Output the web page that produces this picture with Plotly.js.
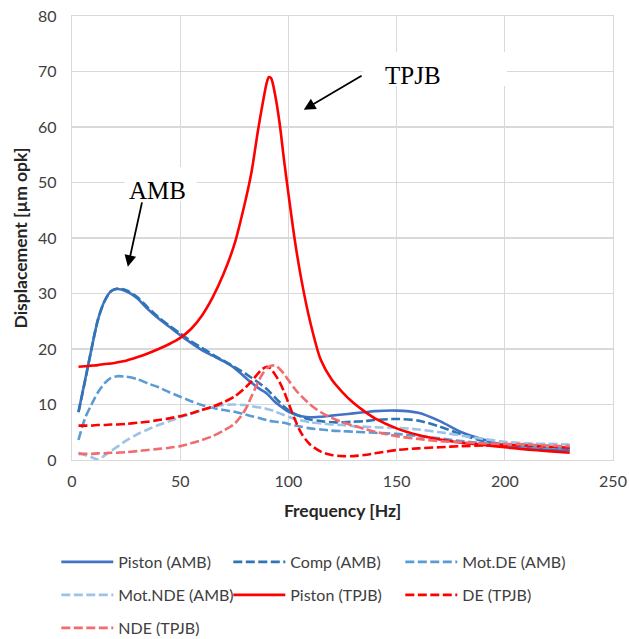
<!DOCTYPE html>
<html>
<head>
<meta charset="utf-8">
<script src="https://cdn.plot.ly/plotly-3.0.1.min.js"></script>
<style>html,body{margin:0;padding:0;background:#fff;}#chart{width:629px;height:639px;}</style>
</head>
<body>
<div id="chart"></div>
<script>
// Frequency grid [Hz]
const freq = [3, 6, 9, 12, 15, 18, 21, 25, 30, 35, 40, 45, 50, 55, 60, 65, 70, 75, 80, 83, 86, 88, 90, 91, 92, 94, 96, 98, 100, 103, 106, 110, 115, 120, 125, 130, 135, 140, 150, 160, 170, 180, 190, 200, 210, 220, 230];

// Displacement [µm opk]
const pistonAMB = [8.7, 14.3, 20.0, 25.3, 28.6, 30.4, 30.8, 30.4, 29.2, 27.2, 25.5, 24.0, 22.5, 21.1, 19.8, 18.8, 17.8, 16.6, 14.9, 13.9, 13.0, 12.5, 12.0, 11.6, 11.2, 10.4, 9.8, 9.2, 8.7, 8.2, 7.9, 7.7, 7.8, 8.0, 8.2, 8.4, 8.6, 8.8, 8.9, 8.5, 7.0, 5.0, 3.7, 2.7, 2.2, 1.9, 1.7];
const compAMB = [8.6, 14.2, 20.0, 25.3, 28.6, 30.4, 30.9, 30.6, 29.4, 27.5, 25.7, 24.2, 22.8, 21.4, 20.2, 19.0, 17.9, 16.8, 15.6, 14.8, 14.0, 13.4, 12.8, 12.4, 12.0, 11.2, 10.4, 9.6, 9.0, 8.3, 7.8, 7.3, 7.0, 6.8, 6.8, 6.9, 7.0, 7.2, 7.4, 7.1, 6.0, 4.6, 3.4, 2.5, 2.0, 1.8, 1.8];
const motDEAMB = [3.6, 7.5, 10.0, 12.2, 13.8, 14.8, 15.1, 15.0, 14.6, 13.8, 13.1, 12.2, 11.4, 10.6, 9.9, 9.4, 9.0, 8.7, 8.2, 7.9, 7.6, 7.4, 7.2, 7.1, 7.0, 6.9, 6.8, 6.7, 6.5, 6.2, 6.0, 5.7, 5.5, 5.3, 5.2, 5.1, 5.0, 4.9, 4.7, 4.3, 3.9, 3.4, 3.0, 2.7, 2.4, 2.2, 2.1];
const motNDEAMB = [1.3, 0.9, 0.5, 0.1, 0.8, 1.6, 2.4, 3.5, 4.6, 5.5, 6.3, 7.0, 7.7, 8.3, 9.0, 9.5, 9.9, 10.0, 9.9, 9.7, 9.5, 9.4, 9.2, 9.1, 9.0, 8.7, 8.4, 8.1, 7.8, 7.4, 7.1, 6.8, 6.6, 6.4, 6.3, 6.1, 6.0, 5.9, 5.8, 5.5, 5.0, 4.4, 3.8, 3.3, 3.0, 2.9, 2.8];
const pistonTPJB = [16.8, 16.9, 17.0, 17.1, 17.3, 17.4, 17.6, 17.9, 18.5, 19.2, 20.0, 20.9, 22.0, 23.6, 26.0, 29.3, 33.5, 38.8, 46.5, 52.0, 59.5, 64.0, 68.0, 69.0, 68.8, 65.5, 60.5, 54.0, 48.0, 39.5, 32.5, 25.0, 18.0, 14.5, 12.2, 10.3, 8.8, 7.5, 5.7, 4.5, 3.7, 3.1, 2.7, 2.3, 1.9, 1.6, 1.3];
const deTPJB = [6.2, 6.2, 6.2, 6.3, 6.3, 6.4, 6.4, 6.5, 6.7, 6.9, 7.2, 7.5, 7.9, 8.4, 9.0, 9.6, 10.4, 11.4, 13.0, 14.2, 15.6, 16.4, 16.8, 16.7, 16.4, 15.3, 14.0, 12.3, 10.3, 7.3, 4.8, 2.8, 1.5, 0.9, 0.7, 0.7, 0.9, 1.2, 1.8, 2.1, 2.3, 2.5, 2.6, 2.7, 2.6, 2.4, 2.2];
const ndeTPJB = [1.1, 1.1, 1.1, 1.2, 1.2, 1.3, 1.3, 1.4, 1.6, 1.8, 2.0, 2.2, 2.5, 3.0, 3.6, 4.3, 5.3, 6.5, 9.0, 11.5, 14.0, 15.5, 16.5, 16.8, 17.0, 17.0, 16.4, 15.5, 14.4, 12.8, 11.5, 10.0, 8.6, 7.6, 6.8, 6.2, 5.6, 5.1, 4.3, 3.8, 3.4, 3.2, 3.0, 2.9, 2.8, 2.6, 2.5];

const seriesNames = ['Piston (AMB)', 'Comp (AMB)', 'Mot.DE (AMB)', 'Mot.NDE (AMB)', 'Piston (TPJB)', 'DE (TPJB)', 'NDE (TPJB)'];
const seriesValues = [pistonAMB, compAMB, motDEAMB, motNDEAMB, pistonTPJB, deTPJB, ndeTPJB];
const seriesColors = ['#4472C4', '#2E75B6', '#5B9BD5', '#9DC3E6', '#FF0000', '#FF0000', '#F26B6E'];
const seriesDash = ['solid', '9px,3.5px', '9px,3.5px', '9px,3.5px', 'solid', '9px,3.5px', '9px,3.5px'];
const seriesLegend = ['legend', 'legend', 'legend', 'legend2', 'legend2', 'legend2', 'legend3'];

const xTicks = [0, 50, 100, 150, 200, 250];
const yTicks = [0, 10, 20, 30, 40, 50, 60, 70, 80];

const traces = seriesNames.map((name, i) => ({
  type: 'scatter', mode: 'lines', name: name,
  x: freq, y: seriesValues[i],
  line: {color: seriesColors[i], width: 2.6, dash: seriesDash[i], shape: 'spline', smoothing: 0.8},
  legend: seriesLegend[i],
  cliponaxis: true
}));

const legendFont = {family: 'Lato, "Liberation Sans", sans-serif', size: 16, color: '#404040'};
const legendBase = {orientation: 'h', xref: 'container', yref: 'container', xanchor: 'left', yanchor: 'middle', x: 0.0895,
  font: legendFont, itemwidth: 52, entrywidth: 105, entrywidthmode: 'pixels',
  bgcolor: 'rgba(0,0,0,0)', borderwidth: 0, traceorder: 'normal', itemclick: false};

const gridCol = '#D9D9D9';
const tickFont = {family: 'Lato, "Liberation Sans", sans-serif', size: 16, color: '#404040'};
const titleFont = {family: 'Lato, "Liberation Sans", sans-serif', size: 17.5, color: '#262626', weight: 'bold'};
const serif = {family: '"Liberation Serif", "Times New Roman", serif', size: 25, color: '#000000'};

const layout = {
  width: 629, height: 639,
  margin: {l: 72, r: 16, t: 16, b: 179},
  paper_bgcolor: '#ffffff', plot_bgcolor: '#ffffff',
  showlegend: true,
  xaxis: {range: [0, 250], tickvals: xTicks, ticktext: xTicks.map(String),
    showgrid: true, gridcolor: gridCol, gridwidth: 1.3, zeroline: false,
    showline: true, linecolor: gridCol, linewidth: 1.3, mirror: true,
    ticks: '', ticklabelstandoff: 6, tickfont: tickFont,
    title: {text: '<b>Frequency [Hz]</b>', font: titleFont, standoff: 16}, automargin: false, fixedrange: true},
  yaxis: {range: [0, 80], tickvals: yTicks, ticktext: yTicks.map(String),
    showgrid: true, gridcolor: gridCol, gridwidth: 1.3, zeroline: false,
    showline: true, linecolor: gridCol, linewidth: 1.3, mirror: true,
    ticks: '', ticklabelstandoff: 11, tickfont: tickFont,
    title: {text: '<b>Displacement [µm opk]</b>', font: titleFont, standoff: 5}, automargin: false, fixedrange: true},
  legend: Object.assign({}, legendBase, {y: 1 - 562 / 639}),
  legend2: Object.assign({}, legendBase, {y: 1 - 595 / 639}),
  legend3: Object.assign({}, legendBase, {y: 1 - 628 / 639}),
  shapes: [
    {type: 'rect', xref: 'x', yref: 'y', x0: 24.3, x1: 57.6, y0: 46.6, y1: 52.8, fillcolor: '#ffffff', line: {width: 0}, layer: 'above'},
    {type: 'rect', xref: 'x', yref: 'y', x0: 134.4, x1: 201.0, y0: 67.4, y1: 73.5, fillcolor: '#ffffff', line: {width: 0}, layer: 'above'}
  ],
  annotations: [
    {x: 39.5, y: 48.6, xref: 'x', yref: 'y', text: 'AMB', showarrow: false, font: serif, xanchor: 'center', yanchor: 'middle'},
    {x: 25.8, y: 34.8, xref: 'x', yref: 'y', ax: 32.5, ay: 46.7, axref: 'x', ayref: 'y', text: '', showarrow: true,
      arrowhead: 2, arrowsize: 1.3, arrowwidth: 1.8, arrowcolor: '#000000', standoff: 0, startstandoff: 0},
    {x: 157.6, y: 69.2, xref: 'x', yref: 'y', text: 'TPJB', showarrow: false, font: serif, xanchor: 'center', yanchor: 'middle'},
    {x: 107.1, y: 63.1, xref: 'x', yref: 'y', ax: 134.5, ay: 69.4, axref: 'x', ayref: 'y', text: '', showarrow: true,
      arrowhead: 2, arrowsize: 1.3, arrowwidth: 1.8, arrowcolor: '#000000', standoff: 0, startstandoff: 0}
  ]
};

Plotly.newPlot('chart', traces, layout, {displayModeBar: false, staticPlot: true});
</script>
</body>
</html>
